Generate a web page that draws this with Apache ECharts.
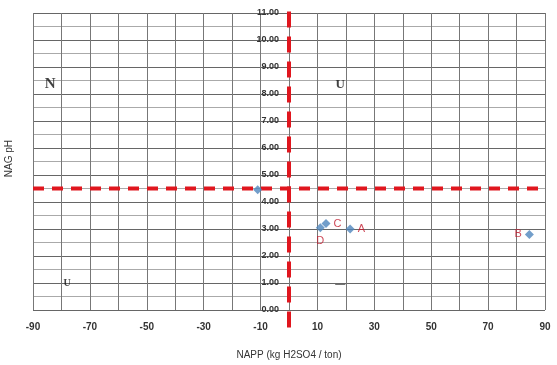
<!DOCTYPE html>
<html>
<head>
<meta charset="utf-8">
<script src="https://cdn.jsdelivr.net/npm/echarts@6/dist/echarts.min.js"></script>
<style>
  html, body { margin: 0; padding: 0; background: #fff; }
  #chart { width: 557px; height: 365px; }
</style>
</head>
<body>
<div id="chart"></div>
<script>
// samples: NAPP (kg H2SO4/t) vs NAG pH
var sampleNames = ["D", "C", "A", "B", ""];
var nappValues = [11, 13, 21.5, 84.5, -11];
var nagValues = [3.05, 3.2, 3.0, 2.8, 4.45];
var labelSides = ["bottom", "right", "right", "left", "right"];

// quadrant tags
var quadText = ["N", "U", "U", "\u2014"];
var quadX = [-84, 18, -78, 18];
var quadY = [8.35, 8.35, 1.0, 0.95];
var quadSize = [15, 13, 10, 10];

// cut-off lines
var phCutoff = 4.5;
var nappCutoff = 0;
var xTickLabels = [-90, -70, -50, -30, -10, 10, 30, 50, 70, 90];

var gridLeft = 33, gridRight = 12;
var chartWidth = 557;

var myChart = echarts.init(document.getElementById("chart"));

var points = nappValues.map(function (x, i) {
    return {
        value: [x, nagValues[i]],
        label: { show: sampleNames[i] !== "", formatter: sampleNames[i], position: labelSides[i] }
    };
});

var quads = quadText.map(function (t, i) {
    return {
        value: [quadX[i], quadY[i]],
        label: { formatter: t, fontSize: quadSize[i] }
    };
});

var option = {
    animation: false,
    grid: { left: gridLeft, right: gridRight, top: 13, bottom: 55 },
    xAxis: {
        type: "value",
        min: -90,
        max: 90,
        interval: 10,
        name: "NAPP (kg H2SO4 / ton)",
        nameLocation: "middle",
        nameGap: 40,
        nameTextStyle: { fontSize: 10, color: "#333", fontFamily: "Liberation Sans" },
        axisLine: { show: false, onZero: false },
        axisTick: { show: false },
        axisLabel: {
            margin: 12,
            fontSize: 10,
            color: "#333",
            fontWeight: "bold",
            fontFamily: "Liberation Sans",
            formatter: function (v) {
                return xTickLabels.indexOf(v) >= 0 ? String(v) : "";
            }
        },
        splitLine: { lineStyle: { color: "#777", width: 1 } }
    },
    yAxis: {
        type: "value",
        min: 0,
        max: 11,
        interval: 1,
        // put the value labels next to x = 0 (middle of the plot)
        offset: -(chartWidth - gridLeft - gridRight) / 2,
        axisLine: { show: false },
        axisTick: { show: false },
        axisLabel: {
            margin: 10,
            fontSize: 9,
            color: "#333",
            fontWeight: "bold",
            fontFamily: "Liberation Sans",
            formatter: function (v) { return v.toFixed(2); }
        },
        splitLine: { lineStyle: { color: "#666", width: 1 } },
        minorTick: { show: false, splitNumber: 2 },
        minorSplitLine: { show: true, lineStyle: { color: "#aaa", width: 1 } }
    },
    graphic: [{
        type: "text",
        left: 4,
        top: 140,
        rotation: Math.PI / 2,
        style: { text: "NAG pH", fontSize: 10, fill: "#333", fontFamily: "Liberation Sans" }
    }],
    series: [
        {
            type: "line",
            data: [[-90, phCutoff], [90, phCutoff]],
            symbol: "none",
            silent: true,
            lineStyle: { color: "#e0161e", width: 4, type: [11, 8] },
            z: 3
        },
        {
            type: "line",
            data: [[nappCutoff, -0.65], [nappCutoff, 11.2]],
            symbol: "none",
            clip: false,
            silent: true,
            lineStyle: { color: "#e0161e", width: 4, type: [16, 9] },
            z: 3
        },
        {
            type: "scatter",
            data: points,
            symbol: "diamond",
            symbolSize: 9,
            itemStyle: { color: "#4f86bd" },
            label: { color: "#c0182a", fontSize: 11, fontFamily: "Liberation Sans", distance: 3 },
            z: 5
        },
        {
            type: "scatter",
            data: quads,
            symbolSize: 0,
            silent: true,
            label: {
                show: true,
                position: "inside",
                color: "#111",
                fontFamily: "Liberation Serif",
                fontWeight: "bold"
            },
            z: 4
        }
    ]
};

myChart.setOption(option);
</script>
</body>
</html>
